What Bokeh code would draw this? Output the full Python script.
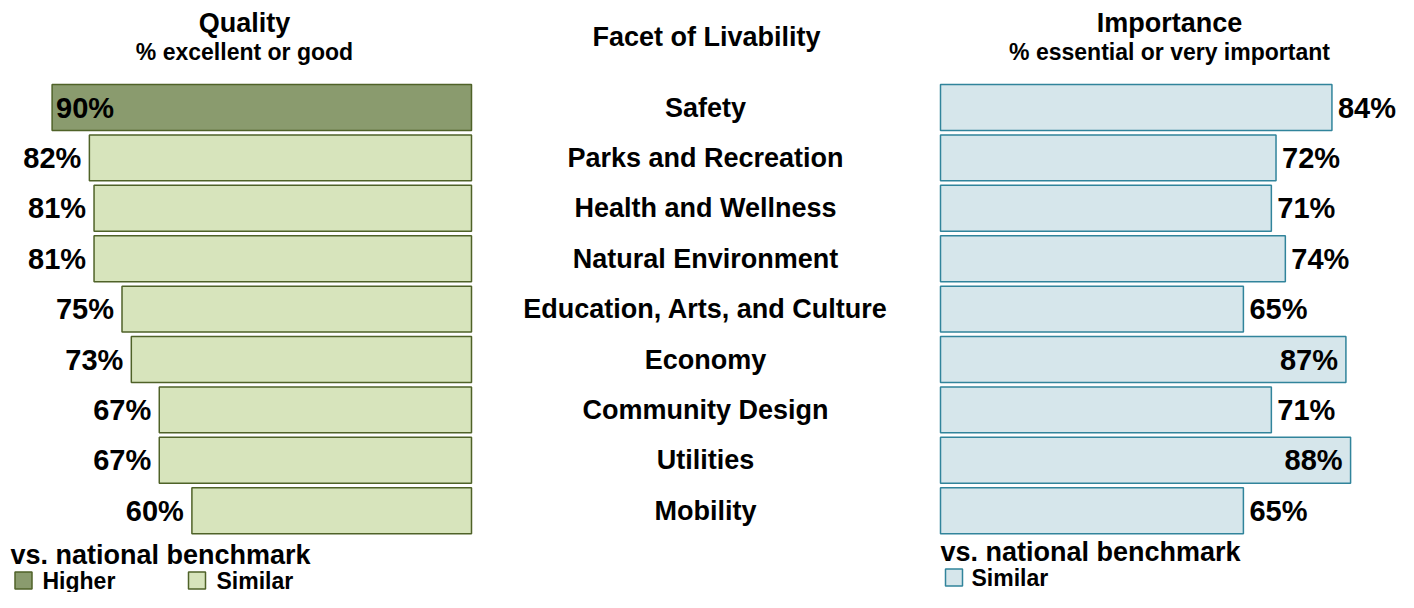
from bokeh.plotting import figure
from bokeh.models import Range1d, ColumnDataSource
from bokeh.core.properties import value
from bokeh.embed import file_html
from bokeh.resources import INLINE

categories = ["Safety", "Parks and Recreation", "Health and Wellness", "Natural Environment",
              "Education, Arts, and Culture", "Economy", "Community Design", "Utilities", "Mobility"]
quality = [90, 82, 81, 81, 75, 73, 67, 67, 60]
quality_bench = ["Higher", "Similar", "Similar", "Similar", "Similar", "Similar", "Similar", "Similar", "Similar"]
importance = [84, 72, 71, 74, 65, 87, 71, 88, 65]
importance_bench = ["Similar"] * 9

FONT = value("Liberation Sans")
W, H = 1398, 592
PX = 4.66          # pixels per percent
ANCHOR_L = 471     # px of left bars' right edge
ROW0 = 107         # px of first row centre
ROWH = 50.4        # px per row
RIGHT0 = (940 - ANCHOR_L) / PX   # start of right bars in data units

def sx(px):  # pixel x -> data
    return (px - ANCHOR_L) / PX

def sy(py):  # pixel y -> data rows
    return (py - ROW0) / ROWH

p = figure(width=W, height=H, output_backend="svg", toolbar_location=None,
           x_range=Range1d(-ANCHOR_L / PX, (W - ANCHOR_L) / PX),
           y_range=Range1d((H - ROW0) / ROWH, -ROW0 / ROWH),
           min_border=0)
p.axis.visible = False
p.grid.visible = False
p.outline_line_color = None
p.background_fill_color = "white"
p.border_fill_color = "white"

q_fill = {"Higher": "#8a9b6e", "Similar": "#d7e4bc"}
i_fill = {"Similar": "#d6e6eb"}
rows = list(range(len(categories)))

qsrc = ColumnDataSource(dict(y=rows, left=[-v for v in quality], right=[0] * len(quality),
                             fill=[q_fill[b] for b in quality_bench]))
p.hbar(y="y", left="left", right="right", height=0.91, source=qsrc,
       fill_color="fill", line_color="#4f6228", line_width=1.5)

isrc = ColumnDataSource(dict(y=rows, left=[RIGHT0] * len(importance),
                             right=[RIGHT0 + v for v in importance],
                             fill=[i_fill[b] for b in importance_bench]))
p.hbar(y="y", left="left", right="right", height=0.91, source=isrc,
       fill_color="fill", line_color="#31849b", line_width=1.5)

VSIZE = "29px"
ql_in = [(i, v) for i, v in enumerate(quality) if v >= 85]
ql_out = [(i, v) for i, v in enumerate(quality) if v < 85]
p.text(x=[-v + 4 / PX for i, v in ql_in], y=[i for i, v in ql_in], text=[f"{v}%" for i, v in ql_in],
       text_font=FONT, text_font_style="bold", text_font_size=VSIZE, text_align="left",
       text_baseline="middle", text_color="black")
p.text(x=[-v - 8 / PX for i, v in ql_out], y=[i for i, v in ql_out], text=[f"{v}%" for i, v in ql_out],
       text_font=FONT, text_font_style="bold", text_font_size=VSIZE, text_align="right",
       text_baseline="middle", text_color="black")
il_in = [(i, v) for i, v in enumerate(importance) if v >= 85]
il_out = [(i, v) for i, v in enumerate(importance) if v < 85]
p.text(x=[RIGHT0 + v - 8 / PX for i, v in il_in], y=[i for i, v in il_in], text=[f"{v}%" for i, v in il_in],
       text_font=FONT, text_font_style="bold", text_font_size=VSIZE, text_align="right",
       text_baseline="middle", text_color="black")
p.text(x=[RIGHT0 + v + 6 / PX for i, v in il_out], y=[i for i, v in il_out], text=[f"{v}%" for i, v in il_out],
       text_font=FONT, text_font_style="bold", text_font_size=VSIZE, text_align="left",
       text_baseline="middle", text_color="black")

p.text(x=[sx(705)] * len(categories), y=rows, text=categories, text_font=FONT,
       text_font_style="bold", text_font_size="27px", text_align="center",
       text_baseline="middle", text_color="black")

def txt(x, y, t, size, align="center"):
    p.text(x=[x], y=[y], text=[t], text_font=FONT, text_font_style="bold",
           text_font_size=size, text_align=align, text_baseline="middle", text_color="black")

txt(sx(244), sy(22), "Quality", "27px")
txt(sx(244), sy(51), "% excellent or good", "23px")
txt(sx(706), sy(36), "Facet of Livability", "27px")
txt(sx(1169), sy(22), "Importance", "27px")
txt(sx(1169), sy(51), "% essential or very important", "23px")

txt(sx(10), sy(554), "vs. national benchmark", "27px", "left")
p.scatter(x=[sx(23), sx(196.5)], y=[sy(580), sy(580)], marker="square", size=17,
          fill_color=[q_fill["Higher"], q_fill["Similar"]], line_color="#4f6228", line_width=1.5)
txt(sx(42), sy(580), "Higher", "23px", "left")
txt(sx(216), sy(580), "Similar", "23px", "left")

txt(sx(940), sy(551), "vs. national benchmark", "27px", "left")
p.scatter(x=[sx(953.5)], y=[sy(577)], marker="square", size=17,
          fill_color=i_fill["Similar"], line_color="#31849b", line_width=1.5)
txt(sx(971), sy(577), "Similar", "23px", "left")

open("out.html", "w").write(file_html(p, INLINE))
